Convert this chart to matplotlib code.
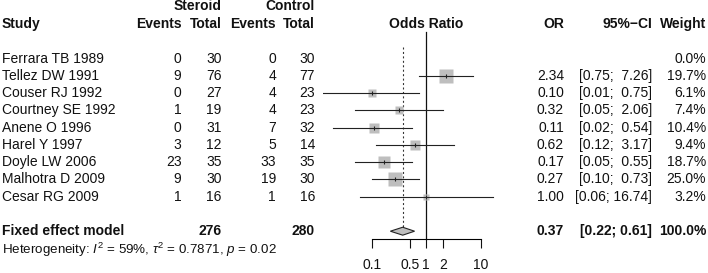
import numpy as np
import matplotlib
matplotlib.use('Agg')
import matplotlib.pyplot as plt

plt.rcParams['font.family'] = ['Liberation Sans', 'DejaVu Sans']
plt.rcParams['mathtext.fontset'] = 'custom'
plt.rcParams['mathtext.rm'] = 'Liberation Sans'
plt.rcParams['mathtext.it'] = 'Liberation Sans:italic'
plt.rcParams['mathtext.bf'] = 'Liberation Sans:bold'

# ── Data ─────────────────────────────────────────────────────────────────────
studies = ['Ferrara TB 1989', 'Tellez DW 1991', 'Couser RJ 1992', 'Courtney SE 1992',
           'Anene O 1996', 'Harel Y 1997', 'Doyle LW 2006', 'Malhotra D 2009',
           'Cesar RG 2009']
ev_steroid = [0, 9, 0, 1, 0, 3, 23, 9, 1]
n_steroid = [30, 76, 27, 19, 31, 12, 35, 30, 16]
ev_control = [0, 4, 4, 4, 7, 5, 33, 19, 1]
n_control = [30, 77, 23, 23, 32, 14, 35, 30, 16]
odds = [np.nan, 2.34, 0.10, 0.32, 0.11, 0.62, 0.17, 0.27, 1.00]
ci_lo = [np.nan, 0.75, 0.01, 0.05, 0.02, 0.12, 0.05, 0.10, 0.06]
ci_hi = [np.nan, 7.26, 0.75, 2.06, 0.54, 3.17, 0.55, 0.73, 16.74]
weight = [0.0, 19.7, 6.1, 7.4, 10.4, 9.4, 18.7, 25.0, 3.2]
pooled_or, pooled_lo, pooled_hi = 0.37, 0.22, 0.61
total_steroid, total_control = 276, 280
xticks = [0.1, 0.5, 1, 2, 10]
xtick_labels = ['0.1', '0.5', '1', '2', '10']

# ── Layout (rows as y units, 17.25 px per row) ───────────────────────────────
W, H = 708, 273
row_px, row0_px = 17.25, 58.7
ylim = ((H - row0_px) / row_px, -row0_px / row_px)
rows = np.arange(len(studies))
y_fixed = 10
y_axis = 10.45

fig = plt.figure(figsize=(W / 100, H / 100), dpi=100)
fig.patch.set_facecolor('white')

tax = fig.add_axes([0, 0, 1, 1])
tax.set_xlim(0, W)
tax.set_ylim(*ylim)
tax.axis('off')

# forest panel: log axis, left edge at pixel 323, 54.65 px per decade
x_left, x_one, dec = 323, 426.3, 54.65
x_right = 510
fax = fig.add_axes([x_left / W, 0, (x_right - x_left) / W, 1])
fax.set_xscale('log')
fax.set_xlim(10 ** ((x_left - x_one) / dec), 10 ** ((x_right - x_one) / dec))
fax.set_ylim(*ylim)
fax.patch.set_alpha(0)
for s in ['top', 'left', 'right']:
    fax.spines[s].set_visible(False)
fax.spines['bottom'].set_position(('data', y_axis))
fax.spines['bottom'].set_bounds(xticks[0], xticks[-1])
fax.spines['bottom'].set_linewidth(0.8)
fax.set_yticks([])
fax.set_xticks(xticks)
fax.set_xticklabels(xtick_labels)
fax.xaxis.set_minor_locator(matplotlib.ticker.NullLocator())
fax.tick_params(axis='x', direction='out', length=6.3, width=0.8, pad=7.5,
                labelsize=10, colors='#111111')

# reference lines
fax.plot([1, 1], [-1.57, y_axis], color='#111111', lw=0.9, zorder=1)
fax.plot([pooled_or, pooled_or], [-0.7, y_fixed - 0.23], color='#333333', lw=0.8,
         ls=(0, (1.8, 2.2)), zorder=1)

# studies
for i in rows:
    if np.isnan(odds[i]):
        continue
    side = 2.94 * np.sqrt(weight[i]) * 0.72
    fax.plot(odds[i], i, marker='s', ms=side, color='#BEBEBE', mec='none', zorder=2)
    fax.plot([ci_lo[i], ci_hi[i]], [i, i], color='#222222', lw=0.8, zorder=3)
    fax.plot(odds[i], i, marker='|', ms=3.5, mew=0.8, color='#222222', zorder=4)

# pooled diamond
fax.fill([pooled_lo, pooled_or, pooled_hi, pooled_or],
         [y_fixed, y_fixed - 0.23, y_fixed, y_fixed + 0.23],
         facecolor='#BEBEBE', edgecolor='#222222', lw=0.8, zorder=3)

# ── Text columns ─────────────────────────────────────────────────────────────
fs = 10
c_txt = '#111111'
x_study, x_evs, x_ns, x_evc, x_nc = 2, 181.5, 221.7, 276, 315
x_or, x_ci, x_w = 564, 652, 706

def txt(x, y, s, ha='right', bold=False, size=fs):
    tax.text(x, y, s, ha=ha, va='center', fontsize=size, color=c_txt,
             fontweight='bold' if bold else 'normal')

txt(x_ns, -3.05, 'Steroid', bold=True)
txt(x_nc, -3.05, 'Control', bold=True)
txt(x_study, -2.0, 'Study', ha='left', bold=True)
for x, s in [(x_evs, 'Events'), (x_ns, 'Total'), (x_evc, 'Events'), (x_nc, 'Total'),
             (x_or, 'OR'), (x_ci, '95%\u2212CI'), (x_w, 'Weight')]:
    txt(x, -2.0, s, bold=True)
txt(x_one, -2.0, 'Odds Ratio', ha='center', bold=True)

for i in rows:
    txt(x_study, i, studies[i], ha='left')
    txt(x_evs, i, str(ev_steroid[i]))
    txt(x_ns, i, str(n_steroid[i]))
    txt(x_evc, i, str(ev_control[i]))
    txt(x_nc, i, str(n_control[i]))
    if not np.isnan(odds[i]):
        txt(x_or, i, f'{odds[i]:.2f}')
        txt(x_ci, i, f'[{ci_lo[i]:.2f}; {ci_hi[i]:5.2f}]')
    txt(x_w, i, f'{weight[i]:.1f}%')

txt(x_study, y_fixed, 'Fixed effect model', ha='left', bold=True)
txt(x_ns, y_fixed, str(total_steroid), bold=True)
txt(x_nc, y_fixed, str(total_control), bold=True)
txt(x_or, y_fixed, f'{pooled_or:.2f}', bold=True)
txt(x_ci, y_fixed, f'[{pooled_lo:.2f}; {pooled_hi:.2f}]', bold=True)
txt(x_w, y_fixed, '100.0%', bold=True)
txt(x_study, 11.06, r'Heterogeneity: $I^2$ = 59%, $\tau^2$ = 0.7871, $p$ = 0.02',
    ha='left', size=9.6)

fig.savefig('out.png', dpi=100, facecolor='white')
